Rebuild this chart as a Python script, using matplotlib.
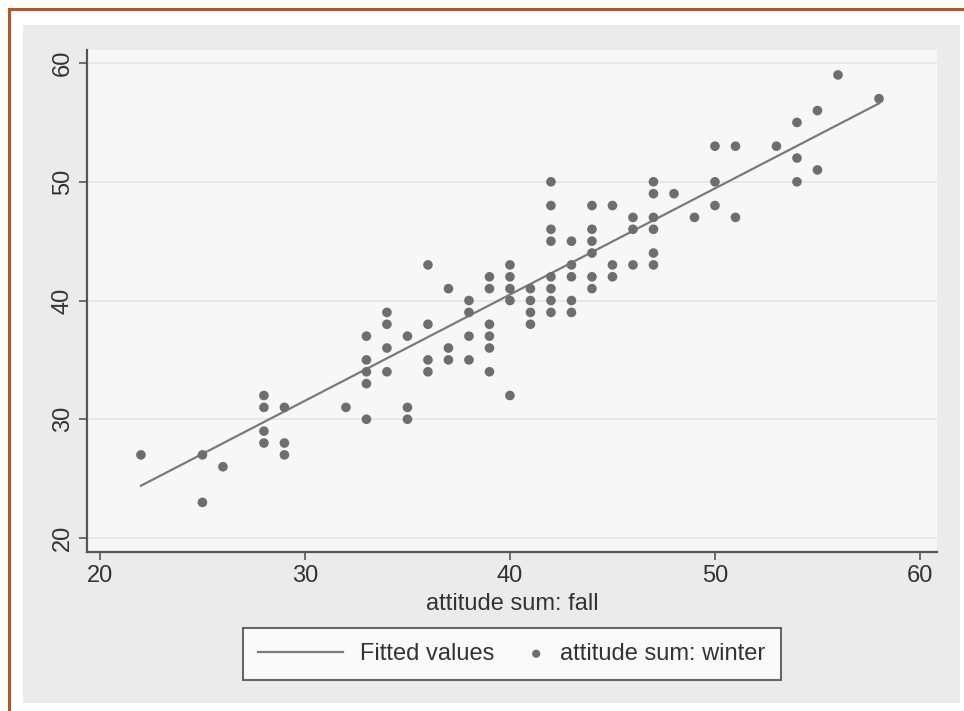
import matplotlib.pyplot as plt
from matplotlib.patches import Rectangle
from matplotlib.lines import Line2D
from matplotlib.legend_handler import HandlerPathCollection

plt.rcParams['font.family'] = ['Liberation Sans', 'DejaVu Sans']

# attitude sum: fall (x) vs attitude sum: winter (y)
fall = [22, 25, 25, 26,
        28, 28, 28, 28, 29, 29, 29,
        32, 33, 33, 33, 33, 33, 34, 34, 34, 34,
        35, 35, 35, 36, 36, 36, 36, 37, 37, 37,
        38, 38, 38, 38, 39, 39, 39, 39, 39, 39,
        40, 40, 40, 40, 40, 41, 41, 41, 41,
        42, 42, 42, 42, 42, 42, 42, 42,
        43, 43, 43, 43, 43, 44, 44, 44, 44, 44, 44,
        45, 45, 45, 46, 46, 46, 47, 47, 47, 47, 47, 47,
        48, 49, 50, 50, 50, 51, 51, 53, 54, 54, 54,
        55, 55, 56, 58]
winter = [27, 27, 23, 26,
          32, 31, 29, 28, 31, 28, 27,
          31, 37, 35, 34, 33, 30, 39, 38, 36, 34,
          37, 31, 30, 43, 38, 35, 34, 41, 36, 35,
          40, 39, 37, 35, 42, 41, 38, 37, 36, 34,
          43, 42, 41, 40, 32, 41, 40, 39, 38,
          50, 48, 46, 45, 42, 41, 40, 39,
          45, 43, 42, 40, 39, 48, 46, 45, 44, 42, 41,
          48, 43, 42, 47, 46, 43, 50, 49, 47, 46, 44, 43,
          49, 47, 53, 50, 48, 53, 47, 53, 55, 52, 50,
          56, 51, 59, 57]

# fitted values (read at the ends of the line)
fit_x = [22, 58]
fit_y = [24.4, 56.6]

xticks = [20, 30, 40, 50, 60]
yticks = [20, 30, 40, 50, 60]


class MarkerAtRight(HandlerPathCollection):
    # put the single legend marker near the right end of the handle box
    def get_xdata(self, legend, xdescent, ydescent, width, height, fontsize):
        x = -xdescent + width - 0.3 * fontsize
        return [x, x], [x]


fig = plt.figure(figsize=(9.64, 7.11), dpi=100)
fig.patch.set_facecolor('white')

# gray graph region and brown frame lines
fig.add_artist(Rectangle((23 / 964, 1 - 703 / 711), (960 - 23) / 964, (703 - 25) / 711,
                         transform=fig.transFigure, facecolor='#ebebeb', edgecolor='none', zorder=0))
fig.add_artist(Line2D([9 / 964, 1], [1 - 9 / 711, 1 - 9 / 711], transform=fig.transFigure,
                      color='#b0582c', lw=2.2))
fig.add_artist(Line2D([9 / 964, 9 / 964], [0, 1 - 9 / 711], transform=fig.transFigure,
                      color='#b0582c', lw=2.2))

ax = fig.add_axes([87 / 964, 1 - 552 / 711, 850 / 964, 502 / 711])
ax.set_facecolor('#f7f7f7')

ax.plot(fit_x, fit_y, color='#7a7a7a', lw=1.6, label='Fitted values', zorder=2)
pts = ax.scatter(fall, winter, s=48, color='#6e6e6e', edgecolors='none',
                 label='attitude sum: winter', zorder=3)

ax.set_xlim(19.37, 60.83)
ax.set_ylim(18.82, 61.1)
ax.set_xticks(xticks)
ax.set_yticks(yticks)
ax.set_yticklabels([str(t) for t in yticks], rotation=90, va='center')
ax.tick_params(direction='out', length=6, width=1.2, color='#555555', labelsize=17,
               labelcolor='#333333')
ax.grid(axis='y', color='#e6e6e6', lw=1.2)
ax.set_axisbelow(True)

for side in ['top', 'right']:
    ax.spines[side].set_visible(False)
for side in ['left', 'bottom']:
    ax.spines[side].set_color('#555555')
    ax.spines[side].set_linewidth(1.6)

ax.set_xlabel('attitude sum: fall', fontsize=17, color='#333333', labelpad=4)

leg = ax.legend(loc='upper center', bbox_to_anchor=(0.5, -0.127), ncol=2, fontsize=17,
                frameon=True, fancybox=False, edgecolor='#444444', handlelength=3.6,
                handletextpad=0.72, columnspacing=-1.55, markerscale=0.85, borderpad=0.65,
                handler_map={pts: MarkerAtRight()})
leg.get_frame().set_linewidth(1.5)
leg.get_frame().set_facecolor('white')
for t in leg.get_texts():
    t.set_color('#333333')

fig.savefig('out.png', dpi=100)
